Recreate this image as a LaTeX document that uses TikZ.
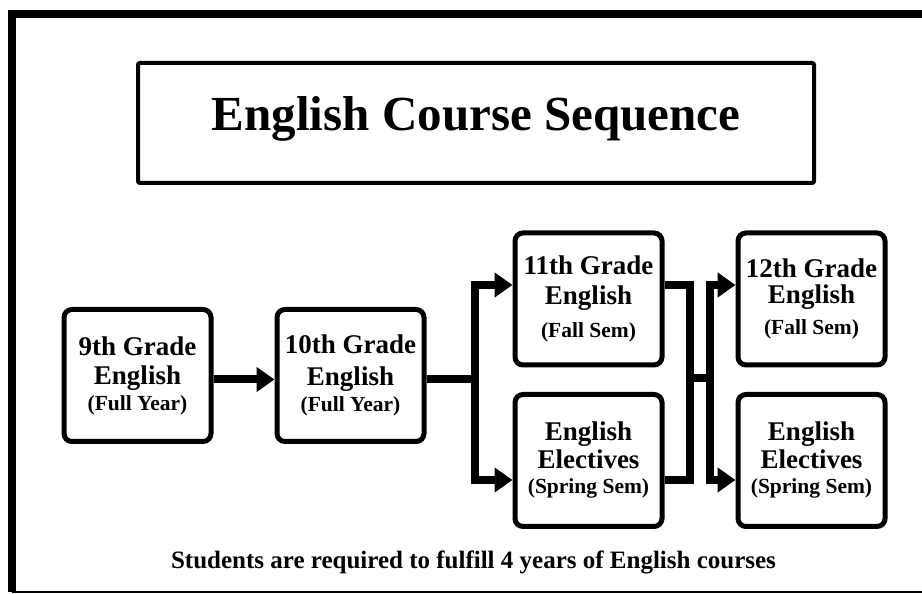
\documentclass[tikz,border=0pt]{standalone}
\usepackage{fontspec}
\setmainfont{Liberation Serif}
\usetikzlibrary{arrows.meta}
\newcommand\semfont{\fontsize{21.5}{24}\selectfont}

\begin{document}
\begin{tikzpicture}[x=1pt, y=1pt, line join=miter,
        course/.style={draw, line width=5pt, rounded corners=8pt, minimum width=147pt, minimum height=132pt,
            inner sep=2pt, align=center, font=\fontsize{27}{27}\selectfont\bfseries},
        link/.style={line width=8pt},
        flow/.style={line width=8pt, -{Triangle[length=18pt, width=24pt]}}]
                \useasboundingbox (0,0) rectangle (922,594);

                % Frame
                \draw[line width=8pt] (922,580) -- (12,580) -- (12,2);
                \draw[line width=1.2pt] (12,2) -- (922,2);

                % Title
                \node[draw, line width=4pt, rounded corners=2pt, minimum width=676pt, minimum height=120pt,
                    text depth=18pt, font=\fontsize{49}{49}\selectfont\bfseries] (title) at (476,471) {English Course Sequence};

                % 9th and 10th grade
                \node[course] (g9) at (137.5,218.5) {9th Grade\\[2pt]English\\[-1pt]{\semfont (Full Year)}};
                \node[course] (g10) at (350.5,218.5) {10th Grade\\[5pt]English\\[-1pt]{\semfont (Full Year)}};

                % 11th grade
                \node[course] (g11) at (588.5,295) {11th Grade\\[3pt]English\\[6pt]{\semfont (Fall Sem)}};
                \node[course] (e11) at (588.5,133.5) {English\\[1pt]Electives\\[-2pt]{\semfont (Spring Sem)}};

                % 12th grade
                \node[course] (g12) at (811.5,295) {12th Grade\\[-1pt]English\\[4pt]{\semfont (Fall Sem)}};
                \node[course] (e12) at (811.5,133.5) {English\\[1pt]Electives\\[-2pt]{\semfont (Spring Sem)}};

                % Note
                \node[anchor=base, inner sep=0pt, font=\fontsize{25}{25}\selectfont\bfseries] (note) at (473.5,25)
                    {Students are required to fulfill 4 years of English courses};

                % Arrows
                \coordinate (s1) at (475,214.5);
                \coordinate (m1) at (690,216);
                \coordinate (s2) at (710,216);

                \draw[flow] ([yshift=-4pt]g9.east) -- ([yshift=-4pt]g10.west);
                \draw[link] ([yshift=-4pt]g10.east) -- (s1);
                \draw[flow] (s1) |- ([yshift=14pt]g11.west);
                \draw[flow] (s1) |- ([yshift=-19.5pt]e11.west);

                \draw[link] ([yshift=14pt]g11.east) -| (m1) |- ([yshift=-19.5pt]e11.east);
                \draw[link] (m1) -- (s2);
                \draw[flow] (s2) |- ([yshift=14pt]g12.west);
                \draw[flow] (s2) |- ([yshift=-19.5pt]e12.west);
            \end{tikzpicture}
\end{document}
